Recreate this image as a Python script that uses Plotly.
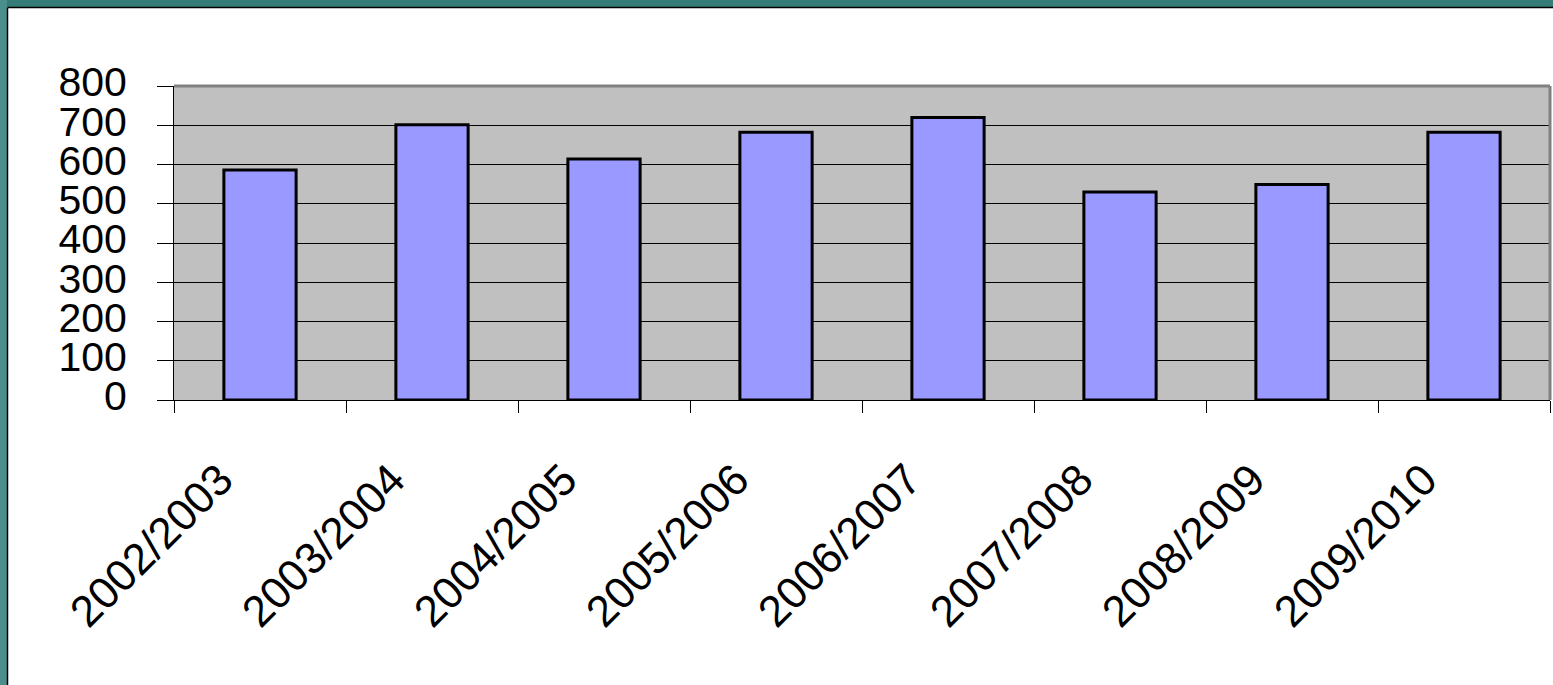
import plotly.graph_objects as go

seasons = ["2002/2003", "2003/2004", "2004/2005", "2005/2006",
           "2006/2007", "2007/2008", "2008/2009", "2009/2010"]
counts = [586, 701, 614, 682, 720, 530, 549, 682]
y_ticks = [0, 100, 200, 300, 400, 500, 600, 700, 800]

W, H = 1553, 685
L, R, T, B = 174, 1550, 86, 400  # plot area in pixels


def px(x):
    return (x - L) / (R - L)


def py(y):
    return (B - y) / (B - T)


fig = go.Figure(go.Bar(
    x=seasons, y=counts,
    marker=dict(color="#9999FF", line=dict(color="black", width=3)),
    width=0.42,
))

family = "Liberation Sans, Arial, sans-serif"
yfont = dict(family=family, size=41, color="black")
xfont = dict(family=family, size=44, color="black")

fig.update_layout(
    width=W, height=H,
    margin=dict(l=L, r=W - R, t=T, b=H - B, pad=0),
    paper_bgcolor="white", plot_bgcolor="#C0C0C0",
    showlegend=False, font=yfont,
    xaxis=dict(
        type="category", tickangle=-45, tickson="boundaries",
        ticks="outside", ticklen=12, tickcolor="black", tickwidth=1,
        showgrid=False, showline=True, linecolor="black", linewidth=1,
        tickfont=xfont, range=[-0.5, 7.5],
        ticklabelshift=-40, ticklabelstandoff=35,
    ),
    yaxis=dict(
        range=[0, 800], tickvals=y_ticks, ticks="outside", ticklen=16,
        tickcolor="black", tickwidth=1, showgrid=True, gridcolor="black",
        gridwidth=1, showline=True, linecolor="black", linewidth=1,
        tickfont=yfont, ticklabelstandoff=22, ticklabelshift=-4,
        zeroline=False,
    ),
    shapes=[
        # plot-area frame with grey shadow on top and right
        dict(type="line", xref="paper", yref="paper", x0=0, x1=1, y0=1, y1=1,
             line=dict(color="#808080", width=3)),
        dict(type="line", xref="paper", yref="paper", x0=1, x1=1, y0=0, y1=1,
             line=dict(color="#808080", width=3)),
        # teal slide border along top and left edges
        dict(type="rect", xref="paper", yref="paper", layer="above",
             x0=px(0), x1=px(W), y0=py(0), y1=py(7),
             fillcolor="#357B77", line=dict(width=0)),
        dict(type="rect", xref="paper", yref="paper", layer="above",
             x0=px(0), x1=px(7), y0=py(0), y1=py(H),
             fillcolor="#4A8F8C", line=dict(width=0)),
        dict(type="line", xref="paper", yref="paper", layer="above",
             x0=px(7.5), x1=px(W), y0=py(7.5), y1=py(7.5),
             line=dict(color="black", width=1.5)),
        dict(type="line", xref="paper", yref="paper", layer="above",
             x0=px(7.5), x1=px(7.5), y0=py(7.5), y1=py(H),
             line=dict(color="black", width=1.5)),
    ],
)

fig.write_html("out.html")
